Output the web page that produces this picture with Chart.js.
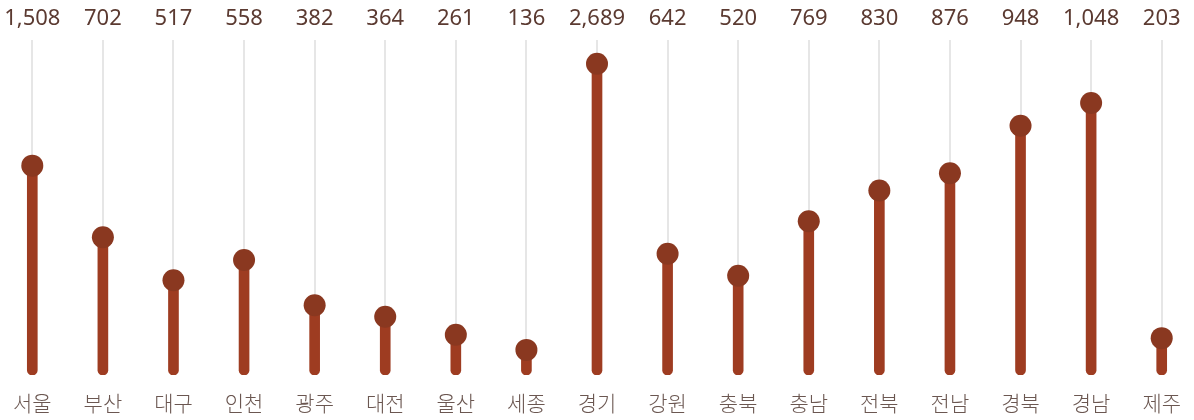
<!DOCTYPE html>
<html lang="ko">
<head>
<meta charset="utf-8">
<title>지역별 현황</title>
<script src="https://cdn.jsdelivr.net/npm/chart.js@4/dist/chart.umd.min.js"></script>
<style>
    html, body { margin: 0; padding: 0; background: #fff; overflow: hidden; }
    #wrap { position: absolute; left: -3px; top: 0; width: 1200px; height: 420px; }
</style>
</head>
<body>
<div id="wrap"><canvas id="graficoRegiones"></canvas></div>
<script>
// 지역 이름
var regiones = ['서울', '부산', '대구', '인천', '광주', '대전', '울산', '세종', '경기', '강원', '충북', '충남', '전북', '전남', '경북', '경남', '제주'];
// 위에 표시되는 숫자
var totales = [1508, 702, 517, 558, 382, 364, 261, 136, 2689, 642, 520, 769, 830, 876, 948, 1048, 203];
// 막대 높이 (0~100 지수, 그림에서 읽은 값)
var indices = [62.5, 41.1, 28.3, 34.3, 20.8, 17.4, 12.0, 7.5, 92.9, 36.2, 29.6, 45.9, 55.1, 60.2, 74.4, 81.2, 11.0];

var colorBarra = '#9e3c21';
var colorPunto = '#8a3820';

// 위쪽 숫자 라벨
var etiquetasArriba = {
    id: 'etiquetasArriba',
    afterDraw: function (chart) {
        var ctx = chart.ctx;
        var x = chart.scales.x;
        ctx.save();
        ctx.font = '22px "Noto Sans", sans-serif';
        ctx.fillStyle = '#5b3a31';
        ctx.textAlign = 'center';
        ctx.textBaseline = 'middle';
        totales.forEach(function (t, i) {
            ctx.fillText(t.toLocaleString('en-US'), x.getPixelForValue(i), 19);
        });
        ctx.restore();
    }
};

var ctx = document.getElementById('graficoRegiones').getContext('2d');
var myChart = new Chart(ctx, {
    data: {
        labels: regiones,
        datasets: [{
            type: 'scatter',
            data: indices.map(function (v, i) { return { x: regiones[i], y: v }; }),
            showLine: false,
            pointRadius: 11,
            pointHoverRadius: 11,
            pointBackgroundColor: colorPunto,
            pointBorderWidth: 0,
            order: 0
        }, {
            type: 'bar',
            data: indices,
            backgroundColor: colorBarra,
            barThickness: 10,
            borderRadius: 5,
            borderSkipped: false,
            order: 1
        }]
    },
    options: {
        responsive: true,
        maintainAspectRatio: false,
        animation: false,
        layout: { autoPadding: false, padding: { top: 40, bottom: 0, left: 0, right: 0 } },
        plugins: {
            legend: { display: false },
            tooltip: { enabled: false }
        },
        scales: {
            x: {
                type: 'category',
                offset: true,
                afterFit: function (scale) {
                    scale.height = 45;
                },
                grid: {
                    offset: false,
                    color: '#e6e6e6',
                    lineWidth: 2,
                    drawTicks: false
                },
                border: { display: false },
                ticks: {
                    padding: 15,
                    color: '#6b5751',
                    font: { family: '"Noto Sans CJK KR", sans-serif', size: 21, weight: 300 }
                }
            },
            y: {
                display: false,
                min: 0,
                max: 100
            }
        }
    },
    plugins: [etiquetasArriba]
});
</script>
</body>
</html>
